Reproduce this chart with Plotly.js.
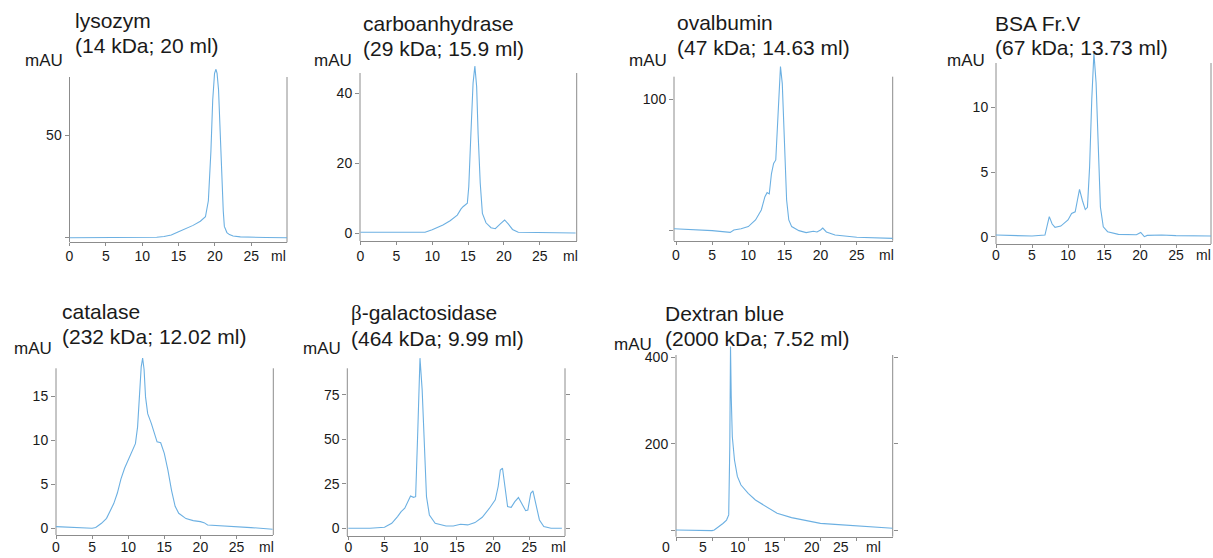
<!DOCTYPE html>
<html>
<head>
<meta charset="utf-8">
<script src="https://cdn.plot.ly/plotly-3.0.1.min.js"></script>
<style>html,body{margin:0;padding:0;background:#fff;}#chart{width:1213px;height:558px;}</style>
</head>
<body>
<div id="chart"></div>
<script>
// ---------------- DATA ----------------
const titleLine1 = ['lysozym', 'carboanhydrase', 'ovalbumin', 'BSA Fr.V', 'catalase',
  '<span style="font-family:\'Liberation Serif\',\'DejaVu Serif\',serif">β</span>-galactosidase', 'Dextran blue'];
const titleLine2 = ['(14 kDa; 20 ml)', '(29 kDa; 15.9 ml)', '(47 kDa; 14.63 ml)', '(67 kDa; 13.73 ml)',
  '(232 kDa; 12.02 ml)', '(464 kDa; 9.99 ml)', '(2000 kDa; 7.52 ml)'];
const yUnit = 'mAU';
const xUnit = 'ml';
const xTickVals = [0, 5, 10, 15, 20, 25];
const xTickText = ['0', '5', '10', '15', '20', '25'];

const yTickVals = [[0, 50], [0, 20, 40], [0, 100], [0, 5, 10], [0, 5, 10, 15], [0, 25, 50, 75], [0, 200, 400]];
const yTickText = [['', '50'], ['0', '20', '40'], ['', '100'], ['0', '5', '10'], ['0', '5', '10', '15'],
  ['0', '25', '50', '75'], ['', '200', '400']];

const lysozymX = [0, 5, 10, 12, 13, 14, 15, 16, 17, 18, 18.7, 19.1, 19.45, 19.7, 19.95, 20.15, 20.3, 20.5, 20.75, 20.97, 21.15, 21.3, 21.65, 22, 22.5, 23.5, 25, 27, 30];
const lysozymY = [0, 0, 0, 0.2, 0.6, 1.3, 2.9, 4.3, 6, 8, 10.2, 18, 42, 67, 80, 82, 80, 72, 48, 26, 13, 5.5, 2.5, 1.5, 0.8, 0.4, 0.2, 0.1, 0];

const carboX = [0, 5, 9, 10, 11.5, 12.5, 13.5, 14, 14.3, 14.9, 15.1, 15.4, 15.7, 15.95, 16.2, 16.4, 16.7, 17, 17.5, 18.2, 18.8, 19.5, 20.1, 20.6, 21.2, 22, 25, 30];
const carboY = [0.3, 0.3, 0.3, 1, 2.4, 3.6, 5.2, 6.9, 7.6, 8.6, 13.3, 28.6, 42.9, 47.8, 41.9, 28.6, 14.3, 5.7, 3, 1.6, 1.3, 2.7, 3.8, 2.7, 1.1, 0.3, 0.2, 0.1];

const ovalX = [-0.28, 2.5, 5, 7.5, 8, 9, 10, 11, 11.8, 12.3, 12.6, 12.9, 13.2, 13.5, 13.8, 14.1, 14.45, 14.7, 15, 15.3, 15.6, 16, 17, 18, 19, 19.5, 20, 20.3, 20.8, 22, 25, 30];
const ovalY = [1, 0.3, -0.5, -1.8, 0, 1, 2.6, 7.7, 15.3, 25.5, 28.6, 27.6, 43, 51, 53.6, 86.7, 125, 112, 69, 23, 7.7, 2.6, -0.5, -2, -1, -1.5, 0, 1.5, -1.5, -3.8, -5.6, -6.4];

const bsaX = [0, 5, 6.8, 7.1, 7.4, 7.8, 8.2, 9, 10, 10.5, 11, 11.3, 11.6, 12, 12.4, 12.7, 13, 13.3, 13.6, 13.9, 14.2, 14.5, 14.9, 15.5, 17, 19.5, 20.1, 20.6, 21, 23, 25, 30];
const bsaY = [0.13, 0.05, 0.13, 0.77, 1.55, 0.98, 0.72, 0.82, 1.29, 1.8, 1.93, 2.8, 3.66, 2.8, 2.1, 2.27, 5.4, 10.6, 14.2, 11.9, 6.7, 2.3, 0.77, 0.39, 0.18, 0.15, 0.33, 0, 0.1, 0.13, 0.08, 0.05];

const catalaseX = [0, 2, 4, 5, 5.5, 6.3, 7, 7.5, 8, 8.5, 9, 9.5, 10, 10.5, 11, 11.3, 11.5, 11.8, 12, 12.2, 12.4, 12.7, 13.2, 13.6, 14, 14.5, 15, 15.5, 16, 16.5, 17, 18, 19, 20, 20.5, 21, 23, 25, 27, 30];
const catalaseY = [0.19, 0.08, 0, 0, 0.1, 0.57, 1.13, 1.9, 2.8, 4, 5.6, 6.8, 7.7, 8.5, 9.6, 11.5, 13.8, 18.3, 19.3, 18, 14.9, 13, 11.9, 10.8, 9.8, 9.7, 8.5, 6.6, 4.3, 2.5, 1.7, 1.1, 0.87, 0.76, 0.64, 0.38, 0.3, 0.19, 0.08, -0.1];

const galX = [0, 3, 5, 6, 6.8, 7.3, 7.8, 8.3, 8.6, 9, 9.3, 9.6, 9.9, 10.2, 10.5, 10.8, 11.2, 12, 13.5, 14.5, 15.5, 16.5, 17.5, 18.5, 19.5, 20.3, 20.7, 21, 21.3, 21.6, 22, 22.5, 23, 23.5, 24, 24.5, 24.8, 25.2, 25.5, 25.9, 26.4, 27, 28, 29.5];
const galY = [0, 0, 0.6, 2.8, 6.6, 9.4, 11.3, 16, 18.2, 17.4, 17.8, 55, 95.7, 78, 42, 17.8, 7.5, 2.8, 1.3, 1.3, 2.3, 1.9, 3.2, 6.2, 11.3, 16, 23.5, 32.8, 33.8, 23.5, 12.2, 11.8, 15, 17.3, 14, 9.9, 10.3, 19.7, 21, 14, 4.7, 0.94, 0, 0];

const dextranX = [0, 3, 5, 5.3, 6, 6.5, 7, 7.3, 7.45, 7.55, 7.65, 7.8, 8.1, 8.5, 9, 10, 11, 12.5, 14, 16, 18, 20, 22, 25, 28, 30];
const dextranY = [0, -1.5, -1.5, 0, 7.7, 15, 23, 35, 193, 425, 309, 216, 162, 124, 104, 85, 69.5, 54, 38.6, 28.6, 21.6, 15.4, 13, 9.3, 6.2, 3.9];

const seriesX = [lysozymX, carboX, ovalX, bsaX, catalaseX, galX, dextranX];
const seriesY = [lysozymY, carboY, ovalY, bsaY, catalaseY, galY, dextranY];

// ---------------- LAYOUT GEOMETRY (pixels) ----------------
const W = 1213, H = 558;
// xl/xr: frame left/right; x0: pixel of 0 ml; sx: px per ml
// yb/yt: frame bottom/top; ytop: top of drawing area; y0: pixel of value 0; sy: px per unit
// ly: centre of x tick labels; so: tick label standoff
const geom = [
  {xl: 69.5, xr: 287, x0: 69.5, sx: 7.27, yb: 242.3, yt: 77, ytop: 66, y0: 237.7, sy: 2.054,
   t1: 21, t2: 45, tx: 73, mx: 44, my: 61, ux: 278, ly: 256, so: -2},
  {xl: 360, xr: 576.7, x0: 360.5, sx: 7.17, yb: 241, yt: 73, ytop: 63, y0: 233.3, sy: 3.5,
   t1: 23, t2: 48, tx: 361, mx: 333, my: 61, ux: 570, ly: 256, so: -1},
  {xl: 674, xr: 892.7, x0: 676, sx: 7.23, yb: 240.7, yt: 76.7, ytop: 64, y0: 230, sy: 1.307,
   t1: 22.7, t2: 47.7, tx: 675, mx: 647.5, my: 61, ux: 886, ly: 255, so: -2},
  {xl: 996, xr: 1211, x0: 996, sx: 7.2, yb: 244, yt: 63, ytop: 51, y0: 236.7, sy: 12.93,
   t1: 23, t2: 47.7, tx: 993, mx: 966, my: 61, ux: 1203, ly: 255, so: -5},
  {xl: 56, xr: 273.3, x0: 56, sx: 7.22, yb: 535, yt: 368.3, ytop: 356, y0: 528.3, sy: 8.82,
   t1: 311.7, t2: 336.7, tx: 60, mx: 32.5, my: 348, ux: 266, ly: 546.5, so: -4},
  {xl: 347.3, xr: 565, x0: 348.3, sx: 7.24, yb: 536, yt: 368.3, ytop: 355, y0: 528.3, sy: 1.778,
   t1: 313.3, t2: 338.3, tx: 349, mx: 322, my: 348, ux: 558, ly: 546.5, so: -5},
  {xl: 676, xr: 892.7, x0: 676, sx: 7.22, yb: 536.7, yt: 355, ytop: 344, y0: 530, sy: 0.432,
   t1: 313.3, t2: 338.3, tx: 662.7, mx: 633, my: 344.5, ux: 873, ly: 546.5, so: -5}
];
// Dextran panel: tick labels are set off from the tick marks in the original
const dextranLabelPx = [666, 703.3, 738.3, 771.7, 811.7, 840.7];

const FONT = 'Arial, "Liberation Sans", sans-serif';
const LINE_COLOR = '#6cb0e2';
const AX_COLOR = '#8c8c8c';
const TXT = '#1a1a1a';

const traces = [];
const layout = {
  width: W, height: H,
  margin: {l: 0, r: 0, t: 0, b: 0},
  paper_bgcolor: '#ffffff', plot_bgcolor: 'rgba(0,0,0,0)',
  showlegend: false,
  font: {family: FONT, color: TXT},
  annotations: [],
  shapes: []
};

function px2x(p) { return p / W; }
function px2y(p) { return 1 - p / H; }

for (let i = 0; i < 7; i++) {
  const g = geom[i];
  const n = i + 1;
  const xid = n === 1 ? 'x' : 'x' + n;
  const yid = n === 1 ? 'y' : 'y' + n;
  const xRange = [(g.xl - g.x0) / g.sx, (g.xr - g.x0) / g.sx];
  const yBot = (g.y0 - g.yb) / g.sy;
  const yDataTop = (g.y0 - g.ytop) / g.sy;

  layout['xaxis' + (n === 1 ? '' : n)] = {
    domain: [px2x(g.xl), px2x(g.xr)], range: xRange, anchor: yid,
    showline: true, linecolor: AX_COLOR, linewidth: 1,
    ticks: 'outside', ticklen: 3, tickcolor: AX_COLOR, tickwidth: 1,
    tickmode: 'array', tickvals: xTickVals, ticktext: xTickText,
    showticklabels: i !== 6, ticklabelstandoff: g.so,
    tickfont: {size: 14, color: TXT, family: FONT},
    showgrid: false, zeroline: false, fixedrange: true
  };
  layout['yaxis' + (n === 1 ? '' : n)] = {
    domain: [px2y(g.yb), px2y(g.ytop)], range: [yBot, yDataTop], anchor: xid,
    showline: false, mirror: (i >= 5 ? 'ticks' : false),
    ticks: 'outside', ticklen: 4, tickcolor: AX_COLOR, tickwidth: 1,
    tickmode: 'array', tickvals: yTickVals[i], ticktext: yTickText[i],
    tickfont: {size: 14, color: TXT, family: FONT},
    showgrid: false, zeroline: false, fixedrange: true
  };

  // frame side lines (left and right), ending below the peak tops as in the original
  [g.xl, g.xr].forEach(px => {
    layout.shapes.push({
      type: 'line', xref: 'paper', yref: 'paper',
      x0: px2x(px), x1: px2x(px), y0: px2y(g.yb), y1: px2y(g.yt),
      line: {color: AX_COLOR, width: 1}, layer: 'below'
    });
  });

  traces.push({
    type: 'scatter', mode: 'lines', x: seriesX[i], y: seriesY[i],
    xaxis: xid, yaxis: yid,
    line: {color: LINE_COLOR, width: 1.1},
    hoverinfo: 'skip'
  });

  const ann = (text, xp, yp, size, xanchor) => ({
    text: text, x: px2x(xp), y: px2y(yp), xref: 'paper', yref: 'paper',
    xanchor: xanchor, yanchor: 'middle', showarrow: false,
    font: {size: size, color: TXT, family: FONT}
  });
  layout.annotations.push(ann(titleLine1[i], g.tx, g.t1, 21, 'left'));
  layout.annotations.push(ann(titleLine2[i], g.tx, g.t2, 21, 'left'));
  layout.annotations.push(ann(yUnit, g.mx, g.my, 17, 'center'));
  layout.annotations.push(ann(xUnit, g.ux, g.ly, 14, 'center'));
  if (i === 6) {
    for (let k = 0; k < xTickText.length; k++) {
      layout.annotations.push(ann(xTickText[k], dextranLabelPx[k], g.ly, 14, 'center'));
    }
  }
}

Plotly.newPlot('chart', traces, layout, {staticPlot: true, displayModeBar: false});
</script>
</body>
</html>
